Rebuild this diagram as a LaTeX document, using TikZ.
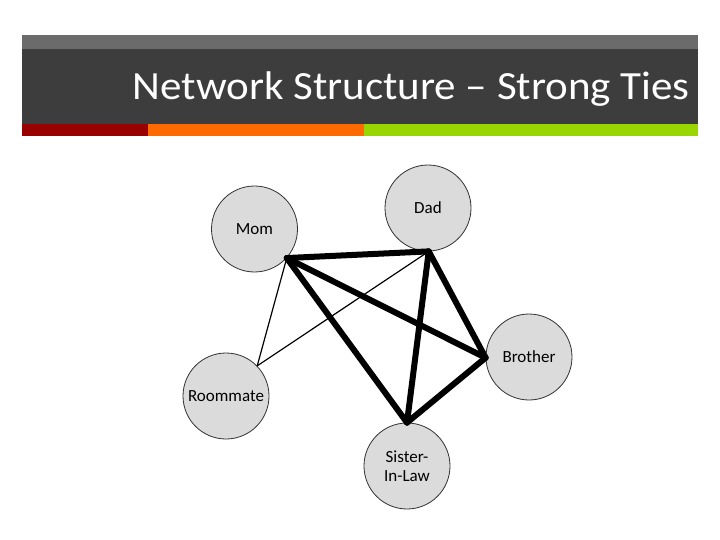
\documentclass[tikz,border=0pt]{standalone}
\usepackage{fontspec}
\setmainfont{Carlito}
\begin{document}
\begin{tikzpicture}[x=1pt,y=-1pt,
  person/.style={circle,draw=black!80,line width=0.8pt,fill=black!14,minimum size=86pt,inner sep=0pt,align=center,font=\fontsize{17}{19}\selectfont},
  strongtie/.style={line width=6pt,line cap=round},
  weaktie/.style={line width=1.2pt}]
\useasboundingbox (0,0) rectangle (720,540);
\fill[white] (0,0) rectangle (720,540);
% title bar
\fill[black!58] (22,35) rectangle (698,49);
\fill[black!76] (22,49) rectangle (698,124);
\fill[red!60!black] (22,124) rectangle (148,136);
\fill[orange!70!red!90!yellow] (148,124) rectangle (364,136);
\fill[green!60!black!40!yellow] (364,124) rectangle (698,136);
\node[anchor=east,text=white,font=\fontsize{40}{42}\selectfont,inner sep=0pt,xscale=1.075] (title) at (690,89) {Network Structure – Strong Ties};
% people
\node[person] (mom) at (254.5,229) {Mom};
\node[person] (dad) at (428,208) {Dad};
\node[person] (brother) at (529,357) {Brother};
\node[person] (roommate) at (226,396) {Roommate};
\node[person] (sister) at (407,466) {Sister-\\In-Law};
% ties
\draw[weaktie] (mom.-42) -- (roommate.44);
\draw[weaktie] (dad.-89) -- (roommate.44);
\draw[strongtie] (mom.-42) -- (dad.-89);
\draw[strongtie] (mom.-42) -- (brother.181);
\draw[strongtie] (mom.-42) -- (sister.90);
\draw[strongtie] (dad.-89) -- (brother.181);
\draw[strongtie] (dad.-89) -- (sister.90);
\draw[strongtie] (brother.181) -- (sister.90);
\end{tikzpicture}
\end{document}
